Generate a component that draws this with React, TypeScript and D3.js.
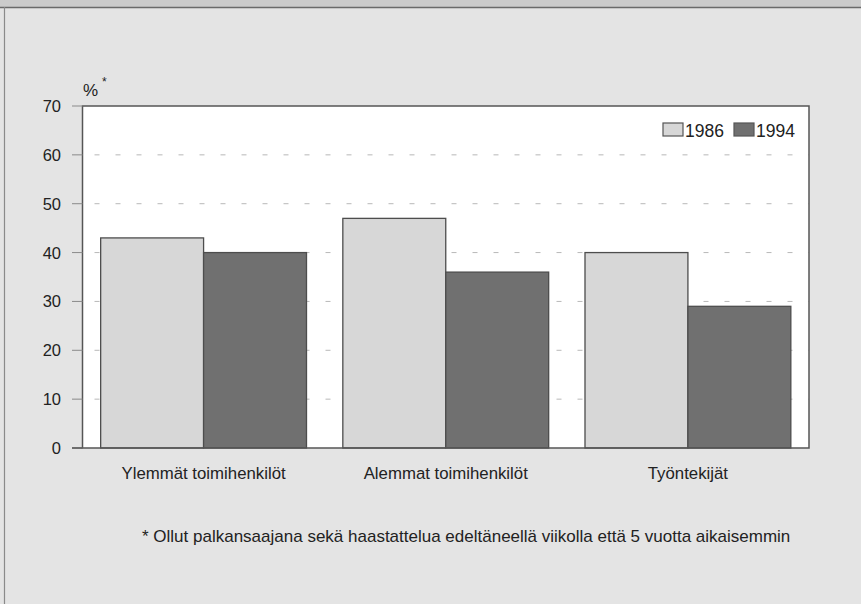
import React from 'react';
import * as d3 from 'd3';

const categories = ['Ylemmät toimihenkilöt', 'Alemmat toimihenkilöt', 'Työntekijät'];
const seriesNames = ['1986', '1994'];
const values1986 = [43, 47, 40];
const values1994 = [40, 36, 29];
const yTicks = [0, 10, 20, 30, 40, 50, 60, 70];
const footnote = '* Ollut palkansaajana sekä haastattelua edeltäneellä viikolla että 5 vuotta aikaisemmin';

const W = 861;
const H = 604;
const plot = { left: 82.5, right: 809, top: 106, bottom: 448 };
const font = '"Liberation Sans", Arial, sans-serif';
const fills = ['#d7d7d7', '#707070'];
const ink = '#222';

const App = () => {
  const x = d3.scaleBand<string>()
    .domain(categories)
    .range([plot.left, plot.right])
    .paddingInner(0.15)
    .paddingOuter(0.075);
  const xSub = d3.scaleBand<string>()
    .domain(seriesNames)
    .range([0, x.bandwidth()]);
  const y = d3.scaleLinear().domain([0, 70]).range([plot.bottom, plot.top]);

  const series = [values1986, values1994];

  return (
    <svg width={W} height={H} style={{ position: 'absolute', left: 0, top: 0 }}>
      {/* page background */}
      <rect x={0} y={0} width={W} height={H} fill="#e4e4e4" />
      <rect x={0} y={0} width={W} height={7} fill="#cbcbcb" />
      <line x1={0} x2={W} y1={7.5} y2={7.5} stroke="#6a6a6a" strokeWidth={1.5} />
      <line x1={4.5} x2={4.5} y1={7} y2={H} stroke="#8a8a8a" strokeWidth={1.2} />

      {/* plot area */}
      <rect x={plot.left} y={plot.top} width={plot.right - plot.left} height={plot.bottom - plot.top} fill="#ffffff" />

      {/* dashed grid */}
      {yTicks.filter(t => t > 0 && t < 70).map(t => (
        <line key={'g' + t} x1={plot.left} x2={plot.right} y1={y(t)} y2={y(t)}
          stroke="#b8b8b8" strokeWidth={1} strokeDasharray="5 16" strokeDashoffset={-12} />
      ))}

      {/* bars */}
      {categories.map((c, i) => (
        <g key={c}>
          {series.map((vals, s) => (
            <rect key={s}
              x={(x(c) as number) + (xSub(seriesNames[s]) as number)}
              y={y(vals[i])}
              width={xSub.bandwidth()}
              height={y(0) - y(vals[i])}
              fill={fills[s]} stroke="#4d4d4d" strokeWidth={1.3} />
          ))}
        </g>
      ))}

      {/* frame */}
      <rect x={plot.left} y={plot.top} width={plot.right - plot.left} height={plot.bottom - plot.top}
        fill="none" stroke="#555" strokeWidth={1.5} />

      {/* y ticks */}
      {yTicks.map(t => (
        <g key={'t' + t}>
          <line x1={72} x2={plot.left} y1={y(t)} y2={y(t)} stroke="#8a8a8a" strokeWidth={1} />
          <text x={61} y={y(t) + 6} textAnchor="end" fontFamily={font} fontSize={16.5} fill={ink}>{t}</text>
        </g>
      ))}
      <line x1={72} x2={plot.left} y1={y(0)} y2={y(0)} stroke="#555" strokeWidth={1.5} />

      <text x={83} y={96} fontFamily={font} fontSize={17} fill={ink}>%</text>
      <text x={102} y={86} fontFamily={font} fontSize={12} fill={ink}>*</text>

      {/* category labels */}
      {categories.map(c => (
        <text key={'l' + c} x={(x(c) as number) + x.bandwidth() / 2} y={479}
          textAnchor="middle" fontFamily={font} fontSize={16.8} fill={ink}>{c}</text>
      ))}

      {/* legend */}
      {seriesNames.map((s, i) => {
        const lx = [663, 734][i];
        return (
          <g key={'lg' + s}>
            <rect x={lx} y={123} width={20} height={13} fill={fills[i]} stroke="#555" strokeWidth={1.2} />
            <text x={lx + 22} y={136.5} fontFamily={font} fontSize={17.5} fill={ink}>{s}</text>
          </g>
        );
      })}

      <text x={142} y={542} fontFamily={font} fontSize={17} fill={ink}>{footnote}</text>
    </svg>
  );
};

export default App;
